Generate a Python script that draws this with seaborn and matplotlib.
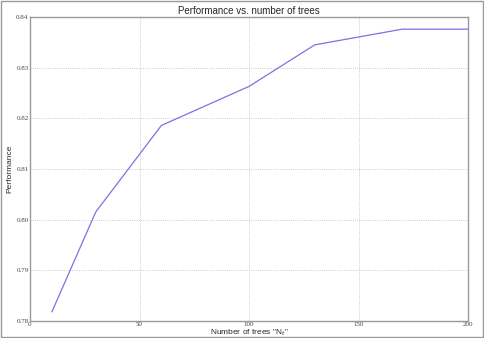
import matplotlib
matplotlib.use("Agg")
import matplotlib.pyplot as plt
import seaborn as sns
import pandas as pd

n_trees = [10, 30, 60, 100, 130, 170, 200]
performance = [0.7818, 0.8015, 0.8186, 0.8263, 0.8345, 0.8376, 0.8376]
x_ticks = [0, 50, 100, 150, 200]
y_ticks = [0.78, 0.79, 0.80, 0.81, 0.82, 0.83, 0.84]

sns.set_theme(style="white")
plt.rcParams['font.family'] = ['Liberation Sans', 'DejaVu Sans']

df = pd.DataFrame({"trees": n_trees, "perf": performance})

fig = plt.figure(figsize=(4.84, 3.38), dpi=100)
ax = fig.add_axes([30/484, 1 - 321/338, 438/484, 304/338])
sns.lineplot(data=df, x="trees", y="perf", ax=ax, color="#7b73e0", linewidth=0.9)

ax.set_xlim(0, 200)
ax.set_ylim(0.78, 0.84)
ax.set_xticks(x_ticks)
ax.set_yticks(y_ticks)
ax.set_xticklabels([str(t) for t in x_ticks], family=['Liberation Serif'], fontsize=5)
ax.set_yticklabels([f"{t:.2f}" for t in y_ticks], family=['Liberation Serif'], fontsize=5)
ax.tick_params(axis='both', direction='in', length=3, width=0.5, color='#888888', pad=1,
               labelcolor='#444444')
ax.grid(True, linestyle=':', color='#bbbbbb', linewidth=0.6)
for s in ax.spines.values():
    s.set_color('#999999')
    s.set_linewidth(1.0)

ax.set_title("Performance vs. number of trees", fontsize=7, pad=2)
ax.set_xlabel('Number of trees "N$_t$"', fontsize=6, labelpad=0)
ax.set_ylabel("Performance", fontsize=6, labelpad=2)

border = plt.Rectangle((0.003, 0.003), 0.994, 0.994, transform=fig.transFigure,
                       fill=False, edgecolor='#999999', linewidth=1.0)
fig.patches.append(border)

fig.savefig("out.png", dpi=100)
